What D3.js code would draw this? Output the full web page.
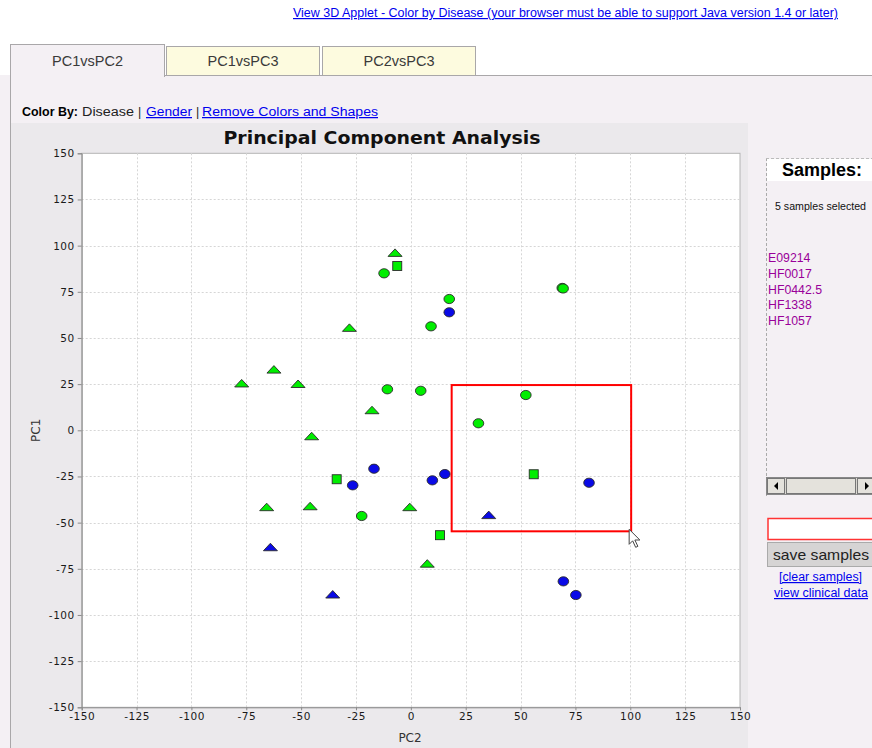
<!DOCTYPE html>
<html>
<head>
<meta charset="utf-8">
<script src="https://cdn.jsdelivr.net/npm/d3@7/dist/d3.min.js"></script>
<style>
  html, body { margin: 0; padding: 0; background: #ffffff; }
  svg { display: block; }
</style>
</head>
<body>
<svg id="page" width="872" height="748" font-family="Liberation Sans, Arial, sans-serif"></svg>
<script>
// ---- PCA scores (PC2 on x, PC1 on y), grouped by disease colour and shape ----
const greenTrianglesPC2 = [-7.2, -28.0, -77.1, -62.4, -51.4, -17.7, -45.2, -65.7, -45.9, -0.5, 7.5];
const greenTrianglesPC1 = [95.8, 55.2, 25.1, 32.6, 24.8, 10.6, -3.5, -41.9, -41.4, -41.9, -72.5];

const blueTrianglesPC2 = [-64.0, -35.6, 35.5];
const blueTrianglesPC1 = [-63.6, -89.2, -46.2];

const greenCirclesPC2 = [-12.2, 17.5, 9.2, 69.0, 69.4, -10.7, 4.5, 52.4, 30.8, -22.4];
const greenCirclesPC1 = [85.0, 71.1, 56.3, 77.1, 76.8, 22.2, 21.4, 19.1, 3.8, -46.4];

const blueCirclesPC2 = [17.5, -16.8, -26.5, 9.8, 15.5, 81.2, 69.5, 75.2];
const blueCirclesPC1 = [63.9, -20.8, -29.8, -27.1, -23.7, -28.4, -81.8, -89.2];

const greenSquaresPC2 = [-6.2, -33.8, 56.0, 13.3];
const greenSquaresPC1 = [89.0, -26.5, -23.8, -56.8];

// selection rectangle in data units: [pc2 min, pc2 max], [pc1 min, pc1 max]
const selectionPC2 = [18.6, 100.4];
const selectionPC1 = [-54.7, 24.5];

const axisTicks = [-150, -125, -100, -75, -50, -25, 0, 25, 50, 75, 100, 125, 150];
const tabLabels = ["PC1vsPC2", "PC1vsPC3", "PC2vsPC3"];
const selectedSamples = ["E09214", "HF0017", "HF0442.5", "HF1338", "HF1057"];

const svg = d3.select("#page");

// ---------------- page chrome ----------------
svg.append("rect").attr("x", 0).attr("y", 75).attr("width", 872).attr("height", 673).attr("fill", "#f4f0f4");

// header link
svg.append("text").attr("x", 293).attr("y", 17)
  .attr("font-size", 12).attr("fill", "#0000ee").attr("text-decoration", "underline")
  .attr("textLength", 545).attr("lengthAdjust", "spacingAndGlyphs")
  .text("View 3D Applet - Color by Disease (your browser must be able to support Java version 1.4 or later)");

// tabs
const tabX = [10, 166, 322];
const tabW = [154, 153, 153];
tabLabels.forEach((lbl, i) => {
  const active = i === 0;
  const y0 = active ? 44 : 46;
  svg.append("rect").attr("x", tabX[i] + 0.5).attr("y", y0 + 0.5)
    .attr("width", tabW[i]).attr("height", 75 - y0 + (active ? 1 : 0))
    .attr("fill", active ? "#f4f0f4" : "#fdfbdf").attr("stroke", "#a9a7a9");
  svg.append("text").attr("x", tabX[i] + tabW[i] / 2 + 0.5).attr("y", 66)
    .attr("text-anchor", "middle").attr("font-size", 14.5).attr("fill", "#3a3a3a")
    .text(lbl);
});
svg.append("line").attr("x1", 164.5).attr("x2", 872).attr("y1", 75.5).attr("y2", 75.5).attr("stroke", "#a9a7a9");
svg.append("line").attr("x1", 10.5).attr("x2", 10.5).attr("y1", 44).attr("y2", 748).attr("stroke", "#a9a7a9");
svg.append("rect").attr("x", 11).attr("y", 74).attr("width", 153).attr("height", 3).attr("fill", "#f4f0f4");

// colour-by line
const cb = svg.append("text").attr("y", 116).attr("font-size", 12.5);
cb.append("tspan").attr("x", 22).attr("font-weight", "bold").attr("textLength", 56).attr("lengthAdjust", "spacingAndGlyphs").text("Color By:");
cb.append("tspan").attr("x", 82).attr("fill", "#222").attr("textLength", 52).attr("lengthAdjust", "spacingAndGlyphs").text("Disease");
cb.append("tspan").attr("x", 138).attr("fill", "#222").text("|");
cb.append("tspan").attr("x", 146).attr("fill", "#0000ee").attr("text-decoration", "underline").attr("textLength", 46).attr("lengthAdjust", "spacingAndGlyphs").text("Gender");
cb.append("tspan").attr("x", 196).attr("fill", "#222").text("|");
cb.append("tspan").attr("x", 202).attr("fill", "#0000ee").attr("text-decoration", "underline").attr("textLength", 176).attr("lengthAdjust", "spacingAndGlyphs").text("Remove Colors and Shapes");

// ---------------- chart panel ----------------
svg.append("rect").attr("x", 11).attr("y", 123).attr("width", 737).attr("height", 625).attr("fill", "#ebe9ec");

svg.append("text").attr("x", 382).attr("y", 144).attr("text-anchor", "middle")
  .attr("font-family", "DejaVu Sans").attr("font-weight", "bold").attr("font-size", 18.5)
  .attr("textLength", 317).attr("lengthAdjust", "spacingAndGlyphs")
  .attr("fill", "#111").text("Principal Component Analysis");

const x = d3.scaleLinear().domain([-150, 150]).range([81.7, 740]);
const y = d3.scaleLinear().domain([-150, 150]).range([707.3, 153.3]);

const plot = svg.append("g");
plot.append("rect").attr("x", x(-150)).attr("y", y(150))
  .attr("width", x(150) - x(-150)).attr("height", y(-150) - y(150))
  .attr("fill", "#ffffff").attr("stroke", "#b4b4b4");

// grid
plot.selectAll("line.vg").data(axisTicks.slice(1, -1)).join("line").attr("class", "vg")
  .attr("x1", d => Math.round(x(d)) + 0.5).attr("x2", d => Math.round(x(d)) + 0.5)
  .attr("y1", y(150)).attr("y2", y(-150))
  .attr("stroke", "#d6d6d6").attr("stroke-dasharray", "2,2");
plot.selectAll("line.hg").data(axisTicks.slice(1, -1)).join("line").attr("class", "hg")
  .attr("y1", d => Math.round(y(d)) + 0.5).attr("y2", d => Math.round(y(d)) + 0.5)
  .attr("x1", x(-150)).attr("x2", x(150))
  .attr("stroke", "#d6d6d6").attr("stroke-dasharray", "2,2");

// axes
const tickFont = g => g.attr("font-family", "DejaVu Sans").attr("font-size", 10.5)
  .selectAll("text").attr("letter-spacing", "0.5px").attr("fill", "#1a1a1a");
const xAxis = svg.append("g").attr("transform", `translate(0,${y(-150)})`)
  .call(d3.axisBottom(x).tickValues(axisTicks).tickSize(3).tickPadding(2).tickFormat(d3.format("d")));
xAxis.call(tickFont);
const yAxis = svg.append("g").attr("transform", `translate(${x(-150)},0)`)
  .call(d3.axisLeft(y).tickValues(axisTicks).tickSize(4).tickPadding(3).tickFormat(d3.format("d")));
yAxis.call(tickFont);
[xAxis, yAxis].forEach(a => {
  a.select(".domain").attr("stroke", "#8a8a8a");
  a.selectAll(".tick line").attr("stroke", "#8a8a8a");
  a.selectAll("text").text(function () { return this.textContent.replace("\u2212", "-"); });
});

svg.append("text").attr("x", 410).attr("y", 742).attr("text-anchor", "middle")
  .attr("font-family", "DejaVu Sans").attr("font-size", 12).attr("fill", "#333").text("PC2");
svg.append("text").attr("transform", `translate(40,${y(0)}) rotate(-90)`).attr("text-anchor", "middle")
  .attr("font-family", "DejaVu Sans").attr("font-size", 12).attr("fill", "#333").text("PC1");

// ---------------- markers ----------------
const GREEN = "#00ee00", BLUE = "#0a0ae6", EDGE = "#2a2a2a";
const zip = (a, b) => a.map((v, i) => [v, b[i]]);
const marks = svg.append("g");

function circles(px, py, fill) {
  marks.append("g").selectAll("ellipse").data(zip(px, py)).join("ellipse")
    .attr("cx", d => x(d[0])).attr("cy", d => y(d[1])).attr("rx", 5.3).attr("ry", 4.6)
    .attr("fill", fill).attr("stroke", EDGE).attr("stroke-width", 0.9);
}
function triangles(px, py, fill) {
  marks.append("g").selectAll("path").data(zip(px, py)).join("path")
    .attr("d", d => {
      const cx = x(d[0]), cy = y(d[1]);
      return `M${cx},${cy - 4.5}L${cx + 7},${cy + 3}L${cx - 7},${cy + 3}Z`;
    })
    .attr("fill", fill).attr("stroke", EDGE).attr("stroke-width", 0.9);
}
function squares(px, py, fill) {
  marks.append("g").selectAll("rect").data(zip(px, py)).join("rect")
    .attr("x", d => x(d[0]) - 4.5).attr("y", d => y(d[1]) - 4.5).attr("width", 9).attr("height", 9)
    .attr("fill", fill).attr("stroke", EDGE).attr("stroke-width", 0.9);
}
triangles(greenTrianglesPC2, greenTrianglesPC1, GREEN);
triangles(blueTrianglesPC2, blueTrianglesPC1, BLUE);
circles(greenCirclesPC2, greenCirclesPC1, GREEN);
circles(blueCirclesPC2, blueCirclesPC1, BLUE);
squares(greenSquaresPC2, greenSquaresPC1, GREEN);

// selection box
svg.append("rect")
  .attr("x", x(selectionPC2[0])).attr("y", y(selectionPC1[1]))
  .attr("width", x(selectionPC2[1]) - x(selectionPC2[0]))
  .attr("height", y(selectionPC1[0]) - y(selectionPC1[1]))
  .attr("fill", "none").attr("stroke", "#ff0000").attr("stroke-width", 2);

// mouse pointer at the drag corner
const cx0 = x(selectionPC2[1]) - 2, cy0 = y(selectionPC1[0]) - 2;
svg.append("path")
  .attr("d", `M${cx0},${cy0}l0,15l3.5,-3.5l3,6.5l2.2,-1l-3,-6.3l5,0z`)
  .attr("fill", "#ffffff").attr("stroke", "#444").attr("stroke-width", 1);

// ---------------- samples side panel ----------------
svg.append("rect").attr("x", 767).attr("y", 159).attr("width", 105).attr("height", 22).attr("fill", "#ffffff");
svg.append("line").attr("x1", 766.5).attr("x2", 766.5).attr("y1", 158).attr("y2", 497)
  .attr("stroke", "#aaa").attr("stroke-dasharray", "3,2");
svg.append("line").attr("x1", 766).attr("x2", 872).attr("y1", 158.5).attr("y2", 158.5)
  .attr("stroke", "#bbb").attr("stroke-dasharray", "3,2");
svg.append("text").attr("x", 822).attr("y", 176).attr("text-anchor", "middle")
  .attr("font-weight", "bold").attr("font-size", 18).attr("fill", "#000").text("Samples:");
svg.append("text").attr("x", 775).attr("y", 210).attr("font-size", 10)
  .attr("textLength", 91).attr("lengthAdjust", "spacingAndGlyphs").attr("fill", "#111")
  .text(`${selectedSamples.length} samples selected`);
svg.append("g").selectAll("text").data(selectedSamples).join("text")
  .attr("x", 768).attr("y", (d, i) => 262 + i * 15.8)
  .attr("font-size", 12.3).attr("fill", "#990099").text(d => d);

// scrollbar
const sb = svg.append("g");
sb.append("rect").attr("x", 766.5).attr("y", 477.5).attr("width", 106).attr("height", 17).attr("fill", "#d8d6d0").attr("stroke", "#888");
sb.append("rect").attr("x", 767.5).attr("y", 478.5).attr("width", 17).attr("height", 15).attr("fill", "#e4e2dc").attr("stroke", "#777");
sb.append("rect").attr("x", 786.5).attr("y", 478.5).attr("width", 69).attr("height", 15).attr("fill", "#e4e2dc").attr("stroke", "#777");
sb.append("rect").attr("x", 857.5).attr("y", 478.5).attr("width", 16).attr("height", 15).attr("fill", "#e4e2dc").attr("stroke", "#777");
sb.append("path").attr("d", "M774,486l4,-4l0,8z").attr("fill", "#000");
sb.append("path").attr("d", "M865,482l4,4l-4,4z").attr("fill", "#000");

// entry box and button
svg.append("rect").attr("x", 768).attr("y", 518.5).attr("width", 106).attr("height", 21)
  .attr("fill", "#ffffff").attr("stroke", "#ff3333").attr("stroke-width", 1.5);
svg.append("rect").attr("x", 767.5).attr("y", 542.5).attr("width", 106).attr("height", 24)
  .attr("fill", "#d6d4d4").attr("stroke", "#aaa");
svg.append("text").attr("x", 773).attr("y", 560).attr("font-size", 14.5).attr("fill", "#222")
  .attr("textLength", 96).attr("lengthAdjust", "spacingAndGlyphs").text("save samples");
svg.append("text").attr("x", 779).attr("y", 581).attr("font-size", 12)
  .attr("textLength", 83).attr("lengthAdjust", "spacingAndGlyphs")
  .attr("fill", "#0000ee").attr("text-decoration", "underline").text("[clear samples]");
svg.append("text").attr("x", 774).attr("y", 597).attr("font-size", 12)
  .attr("textLength", 94).attr("lengthAdjust", "spacingAndGlyphs")
  .attr("fill", "#0000ee").attr("text-decoration", "underline").text("view clinical data");
</script>
</body>
</html>
